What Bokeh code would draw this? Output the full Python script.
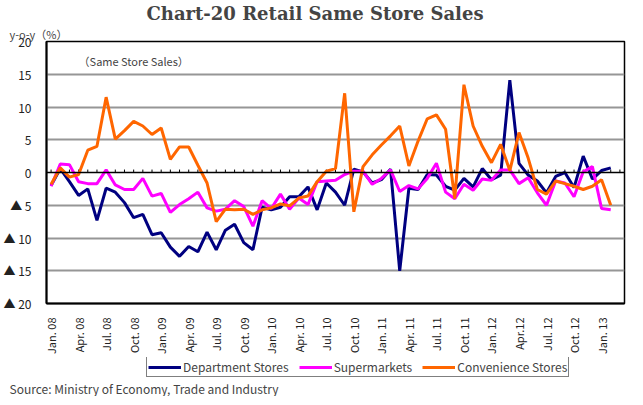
from bokeh.plotting import figure
from bokeh.layouts import column
from bokeh.models import Range1d, FixedTicker, Label, Legend, LegendItem, Span, Title
from bokeh.embed import file_html
from bokeh.resources import INLINE

# Same store sales, y-o-y (%), Jan.08 - Feb.13
dept = [-2.0, 0.6, -1.4, -3.5, -2.5, -7.3, -2.4, -3.0, -4.6, -6.9,
        -6.4, -9.5, -9.2, -11.4, -12.8, -11.3, -12.1, -9.1, -11.8, -8.8,
        -7.9, -10.7, -11.8, -5.3, -5.7, -5.3, -3.7, -3.7, -2.2, -5.7,
        -1.6, -3.0, -5.0, 0.5, 0.1, -1.6, -1.1, 0.5, -15.0, -2.4,
        -2.6, -0.3, -0.4, -2.1, -2.7, -0.9, -2.2, 0.6, -1.1, -0.4,
        14.1, 1.4, -0.4, -1.3, -3.1, -0.6, 0.0, -2.3, 2.5, -1.0,
        0.3, 0.7]
superm = [-2.1, 1.3, 1.2, -1.4, -1.7, -1.7, 0.4, -1.9, -2.6, -2.6,
          -0.9, -3.6, -3.2, -6.1, -4.9, -4.0, -3.0, -5.4, -5.9, -5.6,
          -4.3, -5.2, -8.2, -4.3, -5.5, -3.3, -5.6, -3.9, -4.9, -1.4,
          -1.3, -1.2, -0.3, 0.2, 0.2, -1.8, -0.9, 0.4, -2.9, -2.0,
          -2.5, -0.9, 1.4, -3.0, -4.0, -1.8, -2.7, -1.0, -1.2, 0.4,
          0.4, -1.7, -0.8, -3.1, -5.0, -1.3, -1.6, -3.7, 0.1, 0.9,
          -5.5, -5.7]
conv = [-1.8, 0.7, -0.7, -0.3, 3.4, 4.0, 11.5, 5.1, 6.4, 7.8,
        7.1, 5.8, 6.8, 2.0, 3.9, 3.9, 1.1, -1.6, -7.5, -5.6,
        -5.7, -5.6, -6.4, -5.7, -5.4, -4.8, -5.1, -3.9, -3.6, -1.4,
        0.2, 0.6, 12.1, -6.0, 0.9, 2.7, 4.2, 5.6, 7.1, 1.0,
        4.8, 8.2, 8.8, 6.6, -4.0, 13.4, 7.1, 4.0, 1.5, 4.3,
        0.3, 6.1, 2.2, -2.6, -3.3, -1.3, -1.7, -2.1, -2.6, -2.1,
        -1.1, -5.0]

series_names = ["Department Stores", "Supermarkets", "Convenience Stores"]
series_colors = ["#000080", "#ff00ff", "#ff6600"]

tick_labels = ["Jan. 08", "Apr. 08", "Jul. 08", "Oct. 08",
               "Jan. 09", "Apr. 09", "Jul. 09", "Oct. 09",
               "Jan. 10", "Apr. 10", "Jul. 10", "Oct. 10",
               "Jan. 11", "Apr. 11", "Jul. 11", "Oct. 11",
               "Jan. 12", "Apr.12", "Jul. 12", "Oct. 12",
               "Jan. 13"]
y_ticks = [20, 15, 10, 5, 0, -5, -10, -15, -20]
y_labels = ["20", "15", "10", "5", "0", "▲ 5", "▲ 10", "▲ 15", "▲ 20"]

n_months = 63  # axis runs Jan.08 - Mar.13
months = list(range(len(dept)))
tick_pos = [3 * i for i in range(len(tick_labels))]

jp = "Noto Sans CJK JP"

# main chart
p = figure(width=627, height=357, title=None,
           output_backend="svg", toolbar_location=None,
           x_range=Range1d(-0.5, n_months - 0.5), y_range=Range1d(-20, 20),
           min_border_left=42, min_border_right=3,
           min_border_top=30, min_border_bottom=48)
p.outline_line_color = "black"
p.outline_line_width = 1.5

p.xaxis.ticker = FixedTicker(ticks=tick_pos)
p.xaxis.major_label_overrides = dict(zip(tick_pos, tick_labels))
p.xaxis.major_label_orientation = 3.14159 / 2
p.xaxis.major_label_text_font = jp
p.xaxis.major_label_text_font_size = "11px"
p.xaxis.major_label_text_color = "#222222"
p.xaxis.major_label_standoff = 8
p.xaxis.major_tick_line_color = None
p.xaxis.minor_tick_line_color = None
p.xaxis.axis_line_color = "black"
p.xaxis.axis_line_width = 2

p.yaxis.ticker = FixedTicker(ticks=y_ticks)
p.yaxis.major_label_overrides = dict(zip(y_ticks, y_labels))
p.yaxis.major_label_text_font = jp
p.yaxis.major_label_text_font_size = "12px"
p.yaxis.major_label_text_color = "#222222"
p.yaxis.major_label_standoff = 9
p.yaxis.major_tick_line_color = None
p.yaxis.minor_tick_line_color = None
p.yaxis.axis_line_color = "black"
p.yaxis.axis_line_width = 2

p.xgrid.grid_line_color = None
p.ygrid.ticker = FixedTicker(ticks=[15, 10, 5, -5, -10, -15])
p.ygrid.grid_line_color = "#969696"
p.ygrid.grid_line_width = 2

# zero line with small month ticks
p.add_layout(Span(location=0, dimension="width", line_color="black", line_width=1.5))
p.segment(x0=list(range(n_months)), y0=0, x1=list(range(n_months)), y1=0.45,
          line_color="black", line_width=1)

for vals, col in zip([dept, superm, conv], series_colors):
    p.line(months, vals, line_color=col, line_width=3)

p.add_layout(Title(text="y-o-y（%）", align="left", offset=-37, standoff=0,
                   text_font=jp, text_font_size="11px", text_font_style="normal"),
             "above")
p.add_layout(Title(text="Chart-20 Retail Same Store Sales", align="left",
                   offset=100, standoff=0, text_font="DejaVu Serif",
                   text_font_style="bold", text_font_size="18px"), "above")
p.add_layout(Label(x=3, y=17, text="（Same Store Sales）",
                   text_font=jp, text_font_size="11px",
                   text_baseline="alphabetic"))

# legend and source strip under the chart
p2 = figure(width=627, height=39, output_backend="svg", toolbar_location=None,
            x_range=Range1d(-0.5, n_months - 0.5), y_range=Range1d(-20, 20),
            x_axis_location=None, y_axis_location=None,
            min_border_left=42, min_border_right=3,
            min_border_top=0, min_border_bottom=0)
p2.grid.grid_line_color = None
p2.outline_line_color = None

items = []
for name, vals, col in zip(series_names, [dept, superm, conv], series_colors):
    r = p2.line(months, vals, line_color=col, line_width=3, visible=False)
    items.append(LegendItem(label=name, renderers=[r]))

legend = Legend(items=items, orientation="horizontal", location=(100, 0),
                label_text_font=jp, label_text_font_size="12px",
                glyph_width=33, glyph_height=12, label_standoff=2,
                spacing=10, padding=1, margin=0,
                inactive_fill_alpha=0,
                border_line_color="black", border_line_width=1)
p2.add_layout(legend)
p2.add_layout(Title(text="Source: Ministry of Economy, Trade and Industry",
                    align="left", offset=-37, standoff=0,
                    text_font=jp, text_font_size="12px", text_font_style="normal"),
              "below")

open("out.html", "w").write(file_html(column(p, p2), INLINE))
